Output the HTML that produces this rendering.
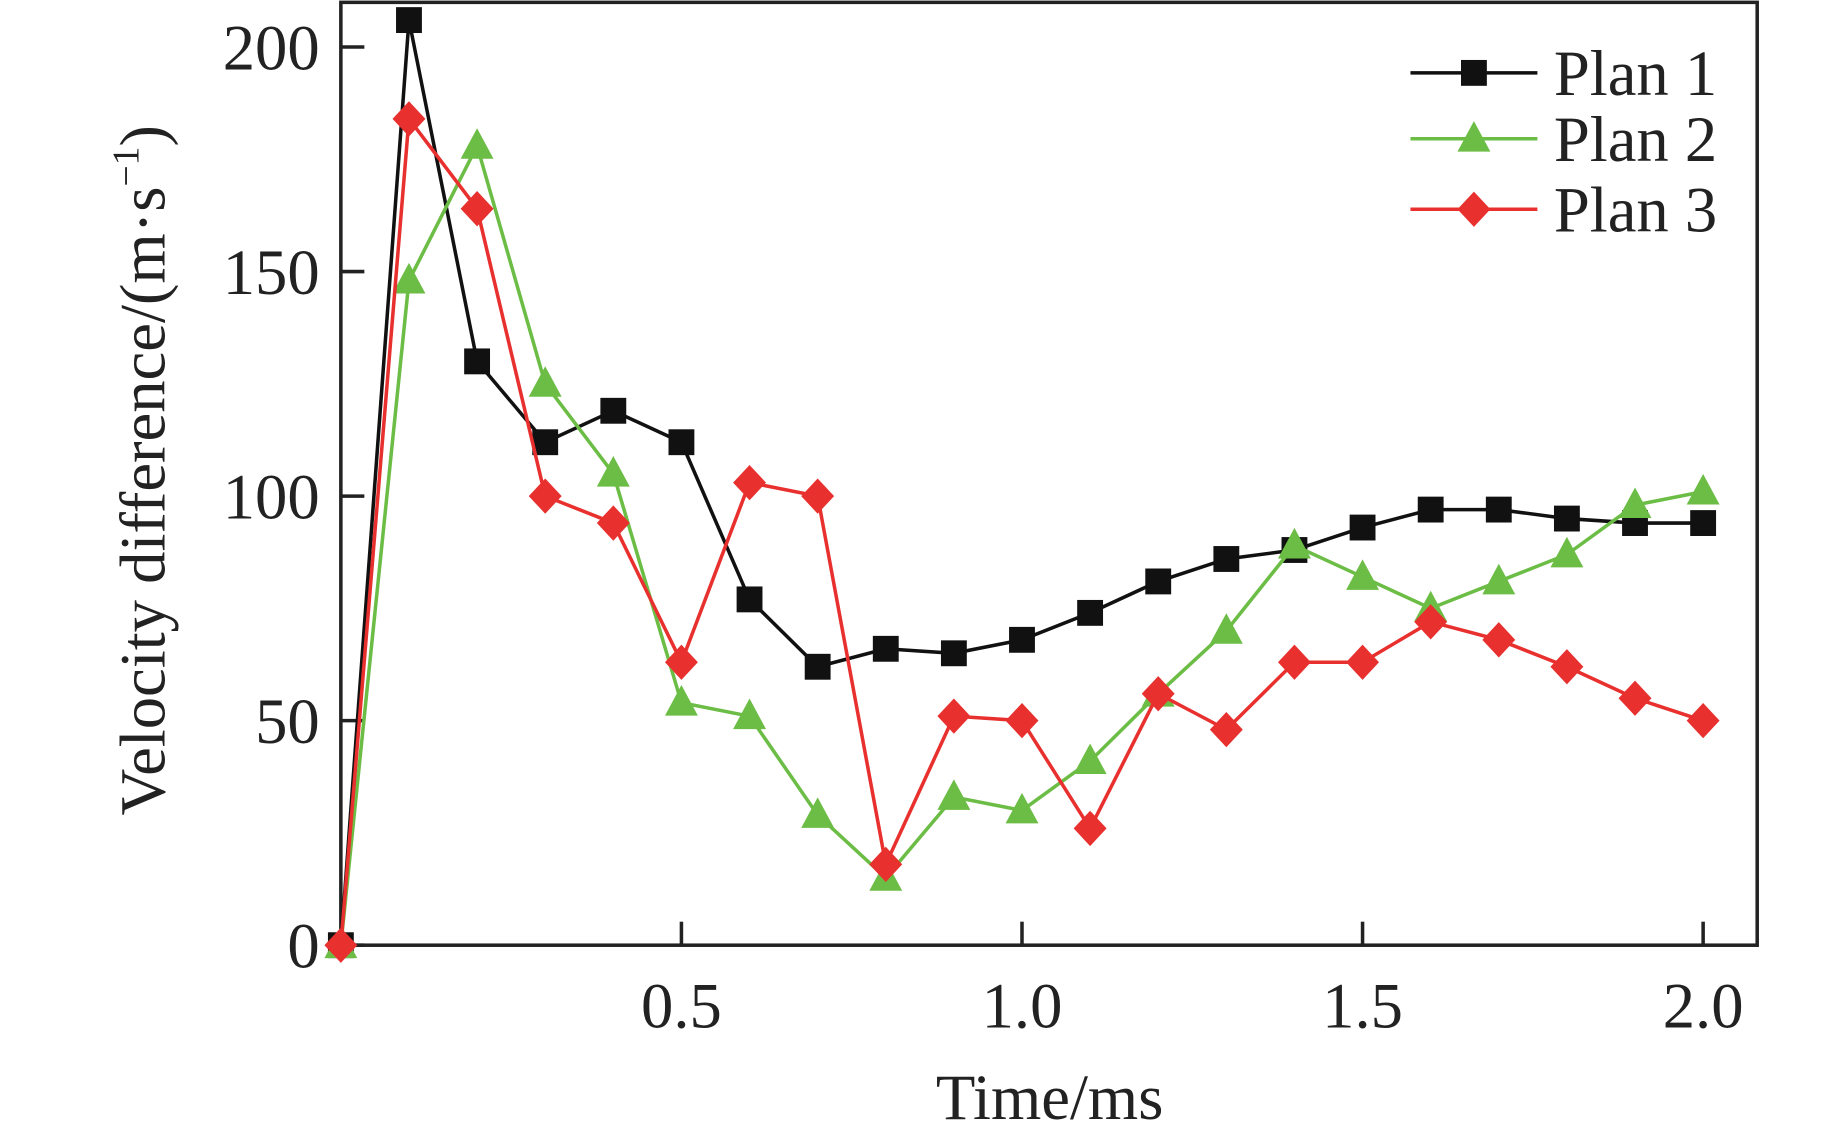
<!DOCTYPE html>
<html><head><meta charset="utf-8"><style>
html,body{margin:0;padding:0;background:#fff;}
svg{display:block;}
text{font-family:"Liberation Serif",serif;fill:#222;}
</style></head><body>
<svg id="chart" width="1843" height="1138" viewBox="0 0 1568 968" preserveAspectRatio="none" xmlns="http://www.w3.org/2000/svg">
<g id="axes"></g>
<g id="series"></g>
<g id="legend"></g>
<text x="893" y="952" font-size="55" text-anchor="middle">Time/ms</text>
<text transform="translate(140,400) rotate(-90)" font-size="55" text-anchor="middle">Velocity difference/(m·s<tspan font-size="32" dy="-22">−1</tspan><tspan dy="22">)</tspan></text>
</svg>
<script>
const times = [0,0.1,0.2,0.3,0.4,0.5,0.6,0.7,0.8,0.9,1.0,1.1,1.2,1.3,1.4,1.5,1.6,1.7,1.8,1.9,2.0];
const plan1 = [0,206,130,112,119,112,77,62,66,65,68,74,81,86,88,93,97,97,95,94,94];
const plan2 = [0,148,178,125,105,54,51,29,15,33,30,41,56,70,89,82,75,81,87,98,101];
const plan3 = [0,184,164,100,94,63,103,100,18,51,50,26,56,48,63,63,72,68,62,55,50];
const xTicks = [0.5,1.0,1.5,2.0];
const xTickLabels = ["0.5","1.0","1.5","2.0"];
const yTicks = [0,50,100,150,200];
const yTickLabels = ["0","50","100","150","200"];
const seriesNames = ["Plan 1","Plan 2","Plan 3"];

const NS="http://www.w3.org/2000/svg";
const X0=290,X1=1495,Y0=2,Y1=804;
const xs=t=>290+t*579.5;
const ys=v=>804-v*3.82;
function mk(tag,attrs,parent){const e=document.createElementNS(NS,tag);for(const k in attrs)e.setAttribute(k,attrs[k]);parent.appendChild(e);return e;}
const axes=document.getElementById('axes');
let fr=mk('rect',{x:X0,y:Y0,width:X1-X0,height:Y1-Y0,fill:'none',stroke:'#222','stroke-width':3},axes);


yTicks.forEach((v,i)=>{
  const l=mk('line',{x1:X0,x2:X0+20,y1:ys(v),y2:ys(v),stroke:'#222','stroke-width':3},axes);
  
  
  const t=mk('text',{x:X0-18,y:ys(v)+19,'font-size':55,'text-anchor':'end'},axes);
  t.textContent=yTickLabels[i];
  
  
});
xTicks.forEach((v,i)=>{
  const l=mk('line',{x1:xs(v),x2:xs(v),y1:Y1,y2:Y1-20,stroke:'#222','stroke-width':3},axes);
  
  
  const t=mk('text',{x:xs(v),y:874,'font-size':55,'text-anchor':'middle'},axes);
  t.textContent=xTickLabels[i];
  
  
});
const colors=['#111111','#6cbd45','#e8302e'];
const data=[plan1,plan2,plan3];
function marker(kind,x,y,c,g){
  let e;
  if(kind===0)e=mk('rect',{x:x-11,y:y-11,width:22,height:22,fill:c},g);
  else if(kind===1)e=mk('polygon',{points:`${x},${y-15} ${x+14},${y+11} ${x-14},${y+11}`,fill:c},g);
  else e=mk('polygon',{points:`${x},${y-15} ${x+14},${y} ${x},${y+15} ${x-14},${y}`,fill:c},g);
  return e;
}
const sg=document.getElementById('series');
data.forEach((arr,k)=>{
  const g=mk('g',{},sg);
  
  
  const pl=mk('polyline',{points:arr.map((v,i)=>xs(times[i])+','+ys(v)).join(' '),fill:'none',stroke:colors[k],'stroke-width':3},g);
  
  
  arr.forEach((v,i)=>{
    const m=marker(k,xs(times[i]),ys(v),colors[k],g);
    
    
  });
});
const lg=document.getElementById('legend');
[62,118,178].forEach((y,k)=>{
  const g=mk('g',{},lg);
  
  
  mk('line',{x1:1200,x2:1308,y1:y,y2:y,stroke:colors[k],'stroke-width':3},g);
  marker(k,1254,y,colors[k],g);
  const t=mk('text',{x:1322,y:y+19,'font-size':55},g);
  t.textContent=seriesNames[k];
});
</script>
</body></html>
